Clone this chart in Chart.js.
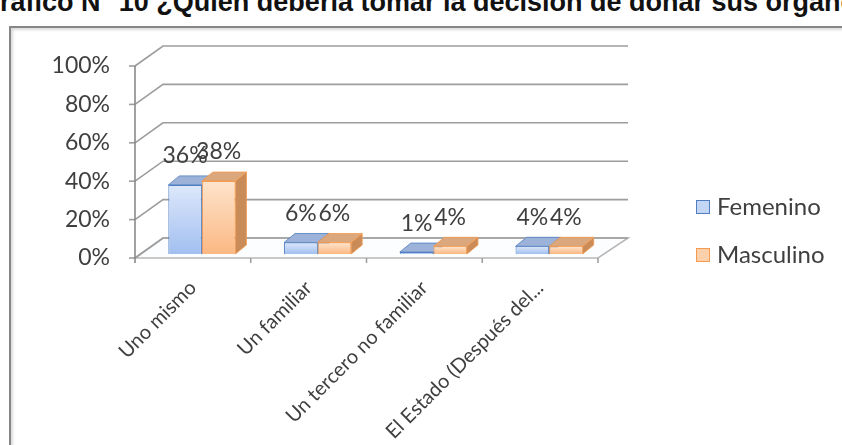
<!DOCTYPE html>
<html>
<head>
<meta charset="utf-8">
<script src="https://cdn.jsdelivr.net/npm/chart.js@4"></script>
<style>
  html, body { margin: 0; padding: 0; background: #fff; }
  #wrap { position: relative; width: 842px; height: 445px; overflow: hidden; }
  #titulo { position: absolute; left: -21px; top: -11px; font: bold 27px "Liberation Sans", Arial, sans-serif; line-height: 27px; white-space: nowrap; color: #111; }
  #marco { position: absolute; left: 9px; top: 26px; width: 900px; height: 500px; border: 2px solid #868686; box-shadow: inset 2px 2px 3px rgba(0,0,0,0.15); }
  #grafico { position: absolute; left: 0; top: 0; }
</style>
</head>
<body>
<div id="wrap">
  <div id="titulo">Gráfico N° 10 ¿Quién debería tomar la decisión de donar sus órganos?</div>
  <div id="marco"></div>
  <canvas id="grafico" width="842" height="445"></canvas>
</div>
<script>
var categorias = ['Uno mismo', 'Un familiar', 'Un tercero no familiar', 'El Estado (Después del...'];
var femenino = [36, 6, 1, 4];
var masculino = [38, 6, 4, 4];
var series = ['Femenino', 'Masculino'];
var escalaY = { min: 0, max: 100, paso: 20 };

// perspectiva: fondo de las paredes y profundidad de las barras
var PARED = { dx: 28, dy: -20 };
var BARRA = { dx: 11, dy: -9 };
var DESPL = { x: 9, y: -4 };
var GRIS = '#9d9d9d';
var FUENTE = 'Lato';

var estilos = [
  { claro: '#dde8fb', oscuro: '#a2bff0', borde: '#4f7fc0', techo: '#9db2d8', lado: '#7e96c3', leyenda: '#c3d6f6' },
  { claro: '#fee4cc', oscuro: '#fbb883', borde: '#f59a4e', techo: '#dba77c', lado: '#c98c58', leyenda: '#fcd0aa' }
];

function degradado(i) {
  return function(c) {
    var chart = c.chart;
    if (!chart.chartArea) return estilos[i].claro;
    var y = chart.scales.y;
    var top = y.getPixelForValue(c.raw), base = y.getPixelForValue(0);
    if (base - top < 1) top = base - 1;
    var g = chart.ctx.createLinearGradient(0, top, 0, base);
    g.addColorStop(0, estilos[i].claro);
    g.addColorStop(1, estilos[i].oscuro);
    return g;
  };
}

function poligono(ctx, pts) {
  ctx.beginPath();
  ctx.moveTo(pts[0][0], pts[0][1]);
  for (var k = 1; k < pts.length; k++) ctx.lineTo(pts[k][0], pts[k][1]);
  ctx.closePath();
}

function caras(ctx, el, est) {
  var b = el.getProps(['x', 'y', 'base', 'width'], true);
  var l = b.x - b.width / 2, r = b.x + b.width / 2, t = b.y, bs = b.base;
  ctx.lineWidth = 0.8;
  ctx.strokeStyle = est.borde;
  poligono(ctx, [[r, bs], [r, t], [r + BARRA.dx, t + BARRA.dy], [r + BARRA.dx, bs + BARRA.dy]]);
  ctx.fillStyle = est.lado;
  ctx.fill();
  ctx.stroke();
  poligono(ctx, [[l, t], [l + BARRA.dx, t + BARRA.dy], [r + BARRA.dx, t + BARRA.dy], [r, t]]);
  ctx.fillStyle = est.techo;
  ctx.fill();
  ctx.stroke();
}

var efecto3d = {
  id: 'efecto3d',
  beforeDatasetsDraw: function(chart) {
    var ctx = chart.ctx, a = chart.chartArea, y = chart.scales.y;
    ctx.save();
    ctx.lineWidth = 1.6;
    // suelo
    var y0 = y.getPixelForValue(0);
    poligono(ctx, [[a.left, y0], [a.left + PARED.dx, y0 + PARED.dy], [a.right + PARED.dx + 2, y0 + PARED.dy], [a.right, y0]]);
    ctx.fillStyle = '#fbfdff';
    ctx.fill();
    ctx.strokeStyle = '#b8b8b8';
    ctx.stroke();
    // lineas de la pared izquierda y del fondo
    ctx.strokeStyle = GRIS;
    y.ticks.forEach(function(t) {
      var py = y.getPixelForValue(t.value);
      ctx.beginPath();
      ctx.moveTo(a.left, py);
      ctx.lineTo(a.left + PARED.dx, py + PARED.dy);
      ctx.lineTo(a.right + PARED.dx + 2, py + PARED.dy);
      ctx.stroke();
      ctx.beginPath();
      ctx.moveTo(a.left - 6, py);
      ctx.lineTo(a.left, py);
      ctx.stroke();
    });
    // eje vertical
    ctx.strokeStyle = '#8a8a8a';
    ctx.beginPath();
    ctx.moveTo(a.left, y.getPixelForValue(escalaY.max));
    ctx.lineTo(a.left, y0 + 5);
    ctx.stroke();
    // marcas entre categorias
    ctx.strokeStyle = '#a0a0a0';
    var w = (a.right - a.left) / categorias.length;
    for (var i = 1; i <= categorias.length; i++) {
      var px = a.left + w * i;
      ctx.beginPath();
      ctx.moveTo(px, y0);
      ctx.lineTo(px, y0 + 5);
      ctx.stroke();
    }
    ctx.restore();
  },
  // las barras se pintan abajo, en orden, para que cada cara tape a la anterior
  beforeDatasetDraw: function() { return false; },
  afterDatasetsDraw: function(chart) {
    var ctx = chart.ctx;
    ctx.save();
    ctx.translate(DESPL.x, DESPL.y);
    var n = chart.data.labels.length;
    for (var j = 0; j < n; j++) {
      chart.data.datasets.forEach(function(ds, i) {
        var el = chart.getDatasetMeta(i).data[j];
        el.draw(ctx);
        caras(ctx, el, estilos[i]);
      });
    }
    // etiquetas de valor
    ctx.font = '23px ' + FUENTE;
    ctx.fillStyle = '#3f3f3f';
    ctx.textAlign = 'center';
    ctx.textBaseline = 'middle';
    chart.data.datasets.forEach(function(ds, i) {
      chart.getDatasetMeta(i).data.forEach(function(el, j) {
        var b = el.getProps(['x', 'y'], true);
        ctx.fillText(ds.data[j] + '%', b.x, b.y - 29);
      });
    });
    ctx.restore();
    // leyenda
    ctx.save();
    ctx.font = '24px ' + FUENTE;
    ctx.textAlign = 'left';
    ctx.textBaseline = 'middle';
    chart.data.datasets.forEach(function(ds, i) {
      var cy = 207 + i * 48;
      ctx.fillStyle = estilos[i].leyenda;
      ctx.fillRect(696, cy - 7, 14, 14);
      ctx.strokeStyle = estilos[i].borde;
      ctx.lineWidth = 1;
      ctx.strokeRect(696.5, cy - 6.5, 13, 13);
      ctx.fillStyle = '#3f3f3f';
      ctx.fillText(ds.label, 717, cy);
    });
    ctx.restore();
  }
};

new Chart(document.getElementById('grafico'), {
  type: 'bar',
  data: {
    labels: categorias,
    datasets: [
      { label: series[0], data: femenino, backgroundColor: degradado(0), borderColor: estilos[0].borde, borderWidth: 1 },
      { label: series[1], data: masculino, backgroundColor: degradado(1), borderColor: estilos[1].borde, borderWidth: 1 }
    ]
  },
  options: {
    responsive: false,
    animation: false,
    events: [],
    categoryPercentage: 0.58,
    barPercentage: 1,
    layout: { padding: { left: 0, top: 66, right: 244, bottom: 0 } },
    plugins: { legend: { display: false }, tooltip: { enabled: false } },
    scales: {
      x: {
        grid: { display: false, drawTicks: false },
        border: { display: false },
        ticks: { font: { family: FUENTE, size: 20 }, color: '#3f3f3f', minRotation: 45, maxRotation: 45, autoSkip: false, padding: 18 },
        afterFit: function(s) { s.height = 187; }
      },
      y: {
        min: escalaY.min,
        max: escalaY.max,
        grid: { display: false, drawTicks: false },
        border: { display: false },
        ticks: { stepSize: escalaY.paso, font: { family: FUENTE, size: 23 }, color: '#3f3f3f', padding: 25, callback: function(v) { return v + '%'; } },
        afterFit: function(s) { s.width = 135; }
      }
    }
  },
  plugins: [efecto3d]
});
</script>
</body>
</html>
